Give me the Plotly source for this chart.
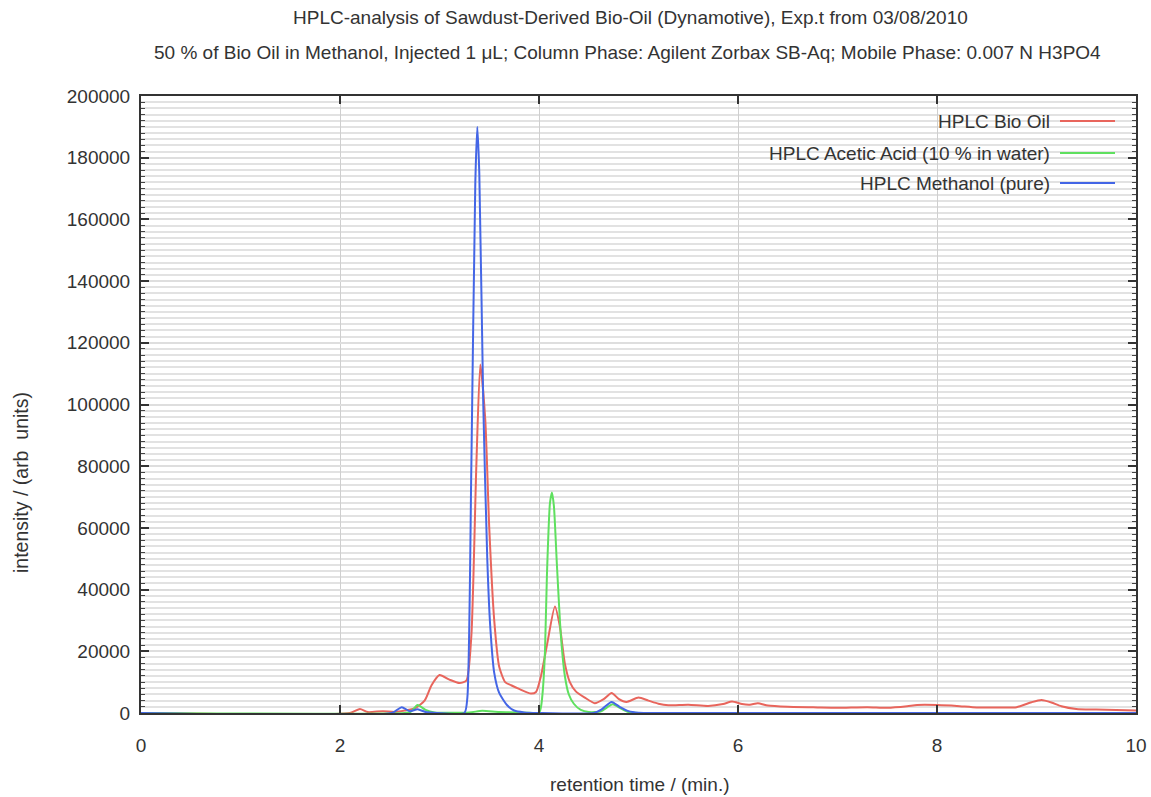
import plotly.graph_objects as go

# ---------------- data ----------------
t_bio = [0.0, 2.1, 2.2, 2.28, 2.43, 2.55, 2.65, 2.75, 2.85, 2.92, 3.0, 3.1, 3.2, 3.27,
         3.32, 3.37, 3.41, 3.46, 3.5, 3.55, 3.6, 3.66, 3.72, 3.8, 3.92, 3.97, 4.02, 4.08,
         4.16, 4.21, 4.26, 4.31, 4.37, 4.46, 4.56, 4.65, 4.73, 4.8, 4.88, 5.0, 5.1, 5.2,
         5.3, 5.5, 5.7, 5.85, 5.94, 6.04, 6.12, 6.2, 6.3, 6.5, 6.8, 7.0, 7.3, 7.5, 7.7,
         7.8, 8.0, 8.2, 8.4, 8.6, 8.8, 8.95, 9.05, 9.15, 9.25, 9.4, 9.6, 10.0]
v_bio = [0, 0, 1300, 300, 600, 300, 800, 1500, 4000, 9000, 12300, 10800, 9700, 10500,
         25000, 80000, 113000, 95000, 60000, 30000, 15000, 10000, 9000, 7800, 6300, 6800, 12000, 22000,
         34500, 28000, 16000, 10000, 7000, 5000, 3200, 4500, 6500, 4600, 3600, 5000, 4000, 3000,
         2500, 2700, 2300, 2900, 3700, 2900, 2700, 3200, 2400, 2000, 1800, 1700, 1900, 1700, 2200,
         2600, 2600, 2300, 1800, 1800, 1900, 3500, 4200, 3400, 2200, 1300, 1100, 800]

t_acetic = [0.0, 2.65, 2.71, 2.78, 2.86, 2.95, 3.3, 3.43, 3.6, 3.9, 4.0, 4.02, 4.04, 4.06,
            4.08, 4.11, 4.13, 4.15, 4.18, 4.22, 4.26, 4.3, 4.35, 4.42, 4.5, 4.62, 4.74, 4.82,
            4.9, 5.0, 10.0]
v_acetic = [0, 0, 400, 2600, 1000, 200, 200, 700, 300, 100, 0, 2000, 8000, 20000,
            45000, 68000, 71500, 67000, 48000, 25000, 12000, 6000, 3000, 1000, 300, 500, 2800, 1500,
            300, 0, 0]

t_methanol = [0.0, 2.52, 2.62, 2.7, 2.78, 2.86, 2.98, 3.25, 3.28, 3.32, 3.36, 3.38, 3.4,
              3.44, 3.48, 3.51, 3.55, 3.6, 3.68, 3.75, 3.85, 4.0, 4.55, 4.63, 4.73, 4.81,
              4.9, 5.0, 5.2, 10.0]
v_methanol = [0, 0, 1900, 600, 1200, 300, 0, 0, 5000, 80000, 172000, 190000, 175000,
              100000, 50000, 28000, 13000, 6500, 2500, 800, 200, 0, 0, 1200, 3600, 2000,
              600, 100, 0, 0]

series_names = ["HPLC Bio Oil", "HPLC Acetic Acid (10 % in water)", "HPLC Methanol (pure)"]
series_colors = ["#e8655c", "#5fe05f", "#4466e6"]

title_1 = "HPLC-analysis of Sawdust-Derived Bio-Oil (Dynamotive), Exp.t from 03/08/2010"
title_2 = "50 % of Bio Oil in Methanol, Injected 1 \u03bcL; Column Phase: Agilent Zorbax SB-Aq; Mobile Phase: 0.007 N H3PO4"
x_title = "retention time / (min.)"
y_title = "intensity / (arb  units)"

# ---------------- figure ----------------
FONT = "Liberation Sans, Arial, sans-serif"
W, H = 1151, 797
L, R, T, B = 141, 15, 96, 84
pw, ph = W - L - R, H - T - B

def px_x(p):
    return (p - L) / pw

def px_y(p):
    return (H - B - p) / ph

fig = go.Figure()
for t, v, name, col in [(t_bio, v_bio, series_names[0], series_colors[0]),
                        (t_acetic, v_acetic, series_names[1], series_colors[1]),
                        (t_methanol, v_methanol, series_names[2], series_colors[2])]:
    fig.add_trace(go.Scatter(x=t, y=v, mode="lines", name=name,
                             line=dict(color=col, width=2, shape="spline", smoothing=0.6),
                             showlegend=False))

fig.update_layout(
    width=W, height=H,
    margin=dict(l=L, r=R, t=T, b=B, pad=0, autoexpand=False),
    paper_bgcolor="white", plot_bgcolor="white",
    font=dict(family=FONT, size=19, color="#333333"),
    xaxis=dict(range=[0, 10], dtick=2, tick0=0, showgrid=True, gridcolor="#cfcfcf", gridwidth=1,
               zeroline=False, showline=True, linecolor="#333333", linewidth=1.5, mirror="allticks",
               ticks="inside", ticklen=8, tickcolor="#333333", tickwidth=1.5, automargin=False,
               ticklabelstandoff=14,
               tickfont=dict(size=19, family=FONT, color="#333333")),
    yaxis=dict(range=[0, 200000], dtick=20000, tick0=0, showgrid=True, gridcolor="#dedede", gridwidth=2,
               zeroline=False, showline=True, linecolor="#333333", linewidth=1.5, mirror="allticks",
               ticks="inside", ticklen=8, tickcolor="#333333", tickwidth=1.5, automargin=False,
               tickformat="d", ticksuffix=" ",
               tickfont=dict(size=19, family=FONT, color="#333333"),
               minor=dict(dtick=2000, showgrid=True, gridcolor="#e2e2e2", gridwidth=2,
                          ticks="inside", ticklen=4, tickcolor="#444444", tickwidth=1)),
)

# legend box (white, covering grid)
fig.add_shape(type="rect", xref="paper", yref="paper",
              x0=px_x(670), x1=px_x(1131), y0=px_y(192), y1=px_y(98),
              fillcolor="white", line=dict(width=0), layer="between")

leg_y = [121, 153, 183]
for name, col, yy in zip(series_names, series_colors, leg_y):
    fig.add_annotation(xref="paper", yref="paper", x=px_x(1052), y=px_y(yy),
                       text=name, showarrow=False, xanchor="right", yanchor="middle",
                       font=dict(size=19, family=FONT, color="#333333"))
    fig.add_shape(type="line", xref="paper", yref="paper",
                  x0=px_x(1060), x1=px_x(1115), y0=px_y(yy), y1=px_y(yy),
                  line=dict(color=col, width=2))

# titles
fig.add_annotation(xref="paper", yref="paper", x=px_x(630), y=px_y(18), text=title_1,
                   showarrow=False, xanchor="center", yanchor="middle",
                   font=dict(size=19, family=FONT, color="#333333"))
fig.add_annotation(xref="paper", yref="paper", x=px_x(627), y=px_y(52), text=title_2,
                   showarrow=False, xanchor="center", yanchor="middle",
                   font=dict(size=19, family=FONT, color="#333333"))
fig.add_annotation(xref="paper", yref="paper", x=px_x(640), y=px_y(784), text=x_title,
                   showarrow=False, xanchor="center", yanchor="middle",
                   font=dict(size=19, family=FONT, color="#333333"))
fig.add_annotation(xref="paper", yref="paper", x=px_x(21), y=px_y(483), text=y_title,
                   showarrow=False, xanchor="center", yanchor="middle", textangle=-90,
                   font=dict(size=19.5, family=FONT, color="#333333"))

fig.write_html("out.html")
